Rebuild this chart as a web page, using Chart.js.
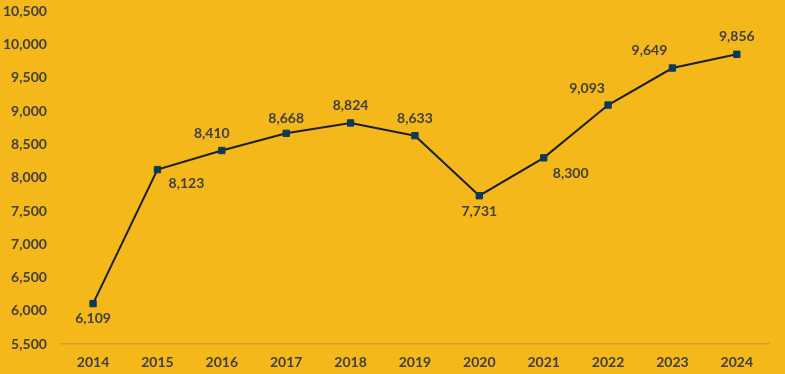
<!DOCTYPE html>
<html>
<head>
<meta charset="utf-8">
<script src="https://cdn.jsdelivr.net/npm/chart.js@4"></script>
<style>
  html, body { margin: 0; padding: 0; background: #F4B81A; overflow: hidden; }
  #wrap { position: relative; top: -11px; width: 785px; height: 385px; }
</style>
</head>
<body>
<div id="wrap"><canvas id="chart"></canvas></div>
<script>
var years = ["2014", "2015", "2016", "2017", "2018", "2019", "2020", "2021", "2022", "2023", "2024"];
var values = [6109, 8123, 8410, 8668, 8824, 8633, 7731, 8300, 9093, 9649, 9856];

// where each value label sits relative to its point
var labelShift = [[0, 15], [29, 14], [-10, -17], [0, -15], [0, -17], [0, -17], [0, 16], [27, 16], [-21, -17], [-23, -18], [0, -18]];

var textColor = "#404040";
var fontFamily = "Lato, 'Open Sans', sans-serif";

var valueLabels = {
  id: 'valueLabels',
  afterDatasetsDraw: function(chart) {
    var ctx = chart.ctx;
    var meta = chart.getDatasetMeta(0);
    ctx.save();
    ctx.font = "bold 14px " + fontFamily;
    ctx.fillStyle = textColor;
    ctx.textAlign = "center";
    ctx.textBaseline = "middle";
    for (var i = 0; i < meta.data.length; i++) {
      var pt = meta.data[i];
      var s = labelShift[i];
      ctx.fillText(values[i].toLocaleString('en-US'), pt.x + s[0], pt.y + s[1]);
    }
    ctx.restore();
  }
};

var ctx = document.getElementById("chart").getContext("2d");
new Chart(ctx, {
  type: 'line',
  data: {
    labels: years,
    datasets: [{
      data: values,
      borderColor: "#1B1F2A",
      borderWidth: 2,
      pointStyle: 'rect',
      pointRadius: 4.5,
      pointBackgroundColor: "#0E3A5A",
      pointBorderColor: "#0E3A5A",
      pointBorderWidth: 1,
      tension: 0,
      fill: false
    }]
  },
  options: {
    responsive: true,
    maintainAspectRatio: false,
    animation: false,
    layout: { padding: { left: -11, right: 16, top: 0, bottom: -7 } },
    plugins: {
      legend: { display: false },
      tooltip: { enabled: false }
    },
    scales: {
      x: {
        offset: true,
        grid: { display: false, drawTicks: false },
        border: { display: true, color: "#D6A21C", width: 1.5 },
        ticks: {
          color: textColor,
          font: { family: fontFamily, size: 14, weight: 'bold' },
          padding: 10
        }
      },
      y: {
        min: 5500,
        max: 10500,
        grid: { display: false, drawTicks: false },
        border: { display: false },
        ticks: {
          stepSize: 500,
          color: textColor,
          font: { family: fontFamily, size: 14, weight: 'bold' },
          padding: 14,
          callback: function(v) { return v.toLocaleString('en-US'); }
        }
      }
    }
  },
  plugins: [valueLabels]
});
</script>
</body>
</html>
